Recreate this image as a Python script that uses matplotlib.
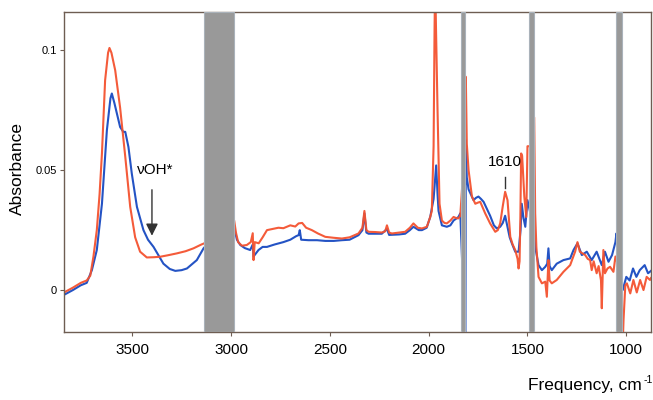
import numpy as np
import matplotlib
matplotlib.use("Agg")
import matplotlib.pyplot as plt

plt.rcParams['font.family'] = ['Liberation Sans', 'DejaVu Sans']

# espectro rojo (cm-1, absorbancia)
freq_roja = [3845, 3800, 3760, 3730, 3712, 3696, 3679, 3665, 3653, 3637, 3622, 3615, 3605,
             3586, 3561, 3535, 3510, 3485, 3460, 3426, 3390, 3358, 3320, 3274, 3230, 3190,
             3150, 3120, 3000, 2984, 2975, 2964, 2945, 2920, 2900, 2890, 2886, 2880, 2860,
             2840, 2818, 2790, 2760, 2735, 2700, 2675, 2658, 2640, 2620, 2591, 2560, 2523,
             2480, 2439, 2400, 2355, 2335, 2325, 2315, 2304, 2270, 2237, 2220, 2211, 2200,
             2186, 2150, 2119, 2095, 2077, 2055, 2034, 2009, 1992, 1984, 1975, 1970, 1967,
             1963, 1955, 1945, 1933, 1920, 1908, 1890, 1874, 1860, 1849, 1840, 1825, 1814,
             1812, 1807, 1798, 1781, 1764, 1750, 1739, 1714, 1689, 1663, 1650, 1638, 1625,
             1613, 1601, 1587, 1575, 1562, 1550, 1545, 1540, 1536, 1532, 1527, 1516, 1506,
             1500, 1480, 1466, 1461, 1455, 1444, 1427, 1410, 1402, 1394, 1388, 1377, 1352,
             1318, 1284, 1259, 1247, 1235, 1208, 1195, 1183, 1175, 1165, 1150, 1140, 1128,
             1124, 1116, 1108, 1095, 1082, 1065, 1055, 1040, 1021, 1014, 1005, 997, 980,
             964, 947, 930, 913, 897, 880, 875]
abs_roja = [-0.001, 0.001, 0.003, 0.004, 0.006, 0.014, 0.025, 0.040, 0.057, 0.0875, 0.099,
            0.101, 0.099, 0.0917, 0.076, 0.0556, 0.0347, 0.022, 0.016, 0.0136, 0.0137, 0.0139,
            0.0145, 0.0153, 0.0162, 0.0174, 0.019, 0.020, 0.025, 0.029, 0.024, 0.020, 0.0185,
            0.0188, 0.020, 0.0237, 0.0125, 0.020, 0.0195, 0.022, 0.025, 0.0255, 0.026, 0.0258,
            0.027, 0.0265, 0.0278, 0.028, 0.026, 0.025, 0.0236, 0.0222, 0.0218, 0.0215, 0.022,
            0.0236, 0.026, 0.033, 0.025, 0.0243, 0.0242, 0.024, 0.0245, 0.027, 0.024, 0.0236,
            0.024, 0.0243, 0.026, 0.0278, 0.026, 0.0257, 0.0264, 0.0305, 0.033, 0.060, 0.11,
            0.13, 0.11, 0.075, 0.036, 0.029, 0.028, 0.0278, 0.029, 0.0305, 0.030, 0.0299,
            0.031, 0.05, 0.089, 0.089, 0.061, 0.050, 0.039, 0.036, 0.0365, 0.0368, 0.032,
            0.0278, 0.0243, 0.025, 0.0278, 0.035, 0.041, 0.0375, 0.0222, 0.019, 0.0167, 0.013,
            0.009, 0.012, 0.030, 0.057, 0.056, 0.039, 0.0305, 0.060, 0.06, 0.072, 0.032, 0.018,
            0.0055, 0.0028, 0.0035, -0.0028, 0.0125, 0.004, 0.0028, 0.0042, 0.0076, 0.0104,
            0.016, 0.020, 0.016, 0.0146, 0.013, 0.0125, 0.0083, 0.012, 0.007, 0.010, 0.004,
            -0.0076, 0.0167, 0.007, 0.009, 0.0097, 0.0076, 0.014, 0.01, -0.03, -0.0125, 0.002,
            0.0028, -0.0014, 0.0042, -0.001, 0.0042, 0.0, 0.0055, 0.0042, 0.005]

# espectro azul
freq_azul = [3845, 3800, 3760, 3730, 3704, 3679, 3653, 3628, 3610, 3603, 3590, 3577, 3561,
             3545, 3535, 3519, 3502, 3476, 3443, 3420, 3392, 3342, 3310, 3282, 3250, 3223,
             3173, 3139, 3100, 2984, 2970, 2953, 2930, 2903, 2890, 2886, 2861, 2840, 2818,
             2780, 2735, 2700, 2670, 2658, 2652, 2645, 2608, 2565, 2523, 2480, 2439, 2400,
             2355, 2335, 2325, 2315, 2304, 2237, 2211, 2200, 2150, 2119, 2095, 2077, 2050,
             2034, 2010, 1992, 1975, 1962, 1955, 1950, 1933, 1908, 1890, 1874, 1849, 1840,
             1825, 1814, 1812, 1807, 1798, 1773, 1760, 1748, 1735, 1722, 1689, 1670, 1655,
             1638, 1625, 1613, 1605, 1590, 1579, 1562, 1545, 1535, 1529, 1520, 1511, 1500,
             1480, 1466, 1461, 1444, 1427, 1410, 1400, 1394, 1388, 1377, 1352, 1318, 1284,
             1267, 1247, 1225, 1200, 1175, 1150, 1124, 1108, 1090, 1072, 1055, 1050, 1035,
             1018, 1000, 983, 966, 949, 932, 907, 890, 875]
abs_azul = [-0.002, 0.0, 0.002, 0.003, 0.0083, 0.0167, 0.036, 0.0667, 0.080, 0.082, 0.078,
            0.0736, 0.068, 0.066, 0.066, 0.0597, 0.0486, 0.0347, 0.025, 0.021, 0.018, 0.011,
            0.0088, 0.008, 0.0083, 0.009, 0.0125, 0.0174, 0.021, 0.026, 0.021, 0.0188, 0.0175,
            0.0167, 0.019, 0.014, 0.0167, 0.018, 0.018, 0.019, 0.020, 0.021, 0.0225, 0.0229,
            0.025, 0.021, 0.0208, 0.0208, 0.0205, 0.0205, 0.0208, 0.021, 0.0229, 0.025, 0.032,
            0.024, 0.0235, 0.0235, 0.0255, 0.023, 0.0232, 0.0235, 0.025, 0.0264, 0.025, 0.025,
            0.026, 0.0305, 0.038, 0.052, 0.040, 0.033, 0.027, 0.0264, 0.027, 0.029, 0.0305,
            0.032, 0.0, -0.03, 0.0625, 0.047, 0.042, 0.0375, 0.0385, 0.039, 0.038, 0.0368,
            0.031, 0.027, 0.0257, 0.0264, 0.028, 0.031, 0.0278, 0.022, 0.0195, 0.016, 0.016,
            0.025, 0.036, 0.030, 0.0264, 0.0375, 0.03, 0.025, 0.018, 0.0104, 0.0083, 0.0097,
            0.011, 0.0174, 0.010, 0.0083, 0.011, 0.0125, 0.0132, 0.0167, 0.0195, 0.0146, 0.016,
            0.0125, 0.016, 0.0104, 0.016, 0.0118, 0.0146, 0.020, 0.0236, 0.01, 0.0, 0.0055,
            0.004, 0.009, 0.0055, 0.0083, 0.0104, 0.007, 0.008]

# zonas tapadas en gris (cm-1)
bandas = [(3136, 2984), (1837, 1815), (1491, 1469), (1051, 1022)]

ticks_x = [3500, 3000, 2500, 2000, 1500, 1000]
ticks_y = [0, 0.05, 0.1]
etiquetas_y = ["0", "0.05", "0.1"]

color_borde = "#6e5d52"

fig = plt.figure(figsize=(6.53, 4.0), dpi=100)
ax = fig.add_axes([64 / 653, 68 / 400, 587 / 653, 320 / 400])

ax.plot(freq_azul, abs_azul, color="#2453c4", lw=1.5, zorder=2)
ax.plot(freq_roja, abs_roja, color="#f4522f", lw=1.5, zorder=2, alpha=0.95)

for a, b in bandas:
    ax.axvspan(b, a, facecolor="#999999", edgecolor="#aab2ba", lw=0.8, zorder=3)

ax.set_xlim(3845, 875)
ax.set_ylim(-0.0175, 0.116)

ax.set_xticks(ticks_x)
ax.set_xticklabels([str(t) for t in ticks_x], fontsize=11)
ax.set_yticks(ticks_y)
ax.set_yticklabels(etiquetas_y, fontsize=8)
ax.tick_params(axis="x", length=3, width=0.8, color=color_borde, pad=5)
ax.tick_params(axis="y", length=3, width=0.8, color=color_borde, pad=2)
for s in ax.spines.values():
    s.set_color(color_borde)
    s.set_linewidth(1.0)

ax.set_ylabel("Absorbance", fontsize=12.5)
ax.yaxis.set_label_coords(-0.066, 0.51)

# etiqueta del eje x con el superindice como texto aparte
fig.text(642 / 653, 10 / 400, "Frequency, cm", fontsize=12.5, ha="right", va="baseline")
fig.text(643.5 / 653, 17 / 400, "-1", fontsize=7.5, ha="left", va="baseline")

# anotaciones
ax.text(3385, 0.050, "νOH*", fontsize=11, ha="center", va="center")
ax.annotate("", xy=(3400, 0.0215), xytext=(3400, 0.043),
            arrowprops=dict(arrowstyle="-|>", color="#333333", lw=1.0,
                            mutation_scale=18))
ax.text(1613, 0.0535, "1610", fontsize=11, ha="center", va="center")
ax.plot([1613, 1613], [0.0425, 0.047], color="#333333", lw=1.0)

fig.savefig("out.png", dpi=100)
